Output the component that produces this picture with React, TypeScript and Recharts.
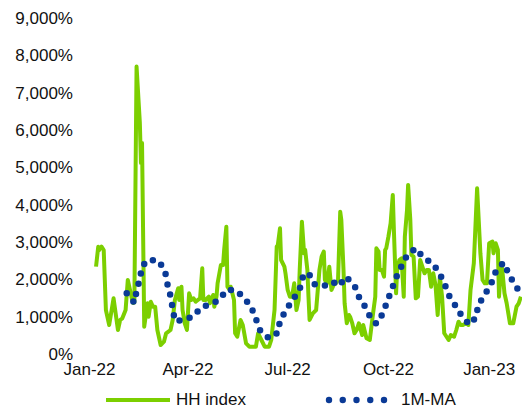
import React from "react";
import { Legend, Line, LineChart, XAxis, YAxis } from "recharts";

// days counted from 1 Jan 2022
const hhDays = [
  6, 8, 9, 11, 13, 15, 18, 22, 26, 28, 30, 33, 35, 37, 39, 40, 41, 43, 46, 47,
  48, 50, 53, 54, 56, 58, 60, 62, 65, 68, 70, 74, 76, 78, 81, 82, 84, 85, 87, 89,
  91, 93, 95, 97, 99, 101, 103, 104, 106, 109, 110, 113, 114, 116, 117, 120, 122, 123, 125, 126,
  128, 129, 132, 133, 135, 138, 140, 143, 146, 149, 152, 154, 157, 160, 164, 166, 169, 171, 172, 174,
  175, 178, 179, 181, 183, 185, 187, 189, 191, 192, 194, 196, 197, 199, 200, 201, 204, 207, 210, 212,
  214, 215, 217, 219, 221, 223, 225, 227, 229, 230, 232, 233, 235, 237, 238, 240, 242, 244, 246, 249,
  250, 253, 256, 259, 261, 262, 264, 265, 267, 269, 270, 271, 273, 275, 277, 278, 280, 281, 283, 285,
  287, 288, 290, 291, 293, 294, 296, 298, 300, 302, 304, 306, 308, 310, 312, 314, 316, 318, 320, 322,
  324, 328, 330, 333, 335, 337, 339, 341, 344, 346, 348, 351, 354, 355, 357, 359, 361, 363, 365, 368,
  369, 371, 373, 374, 376, 377, 379, 381, 382, 384, 387, 390, 392, 394,
];

const hhIndex = [
  2340, 2875, 2786, 2875, 2786, 1179, 777, 1492, 643, 911, 956, 1179, 1982, 1715, 1447, 1366, 1380, 7700, 6188, 5117,
  5653, 731, 1358, 999, 1401, 1267, 1267, 643, 241, 330, 555, 643, 911, 1447, 1760, 1447, 1803, 1179, 822, 643,
  1626, 1447, 1492, 1401, 1447, 1492, 2296, 1447, 1447, 1535, 1358, 1581, 1267, 1535, 1894, 2384, 2384, 2786, 3410, 1803,
  1715, 1803, 1447, 555, 463, 911, 777, 287, 196, 196, 196, 555, 375, 196, 196, 375, 1179, 2875, 2920, 3367,
  2518, 2339, 2162, 1715, 1535, 1535, 1894, 1179, 1447, 2250, 3544, 2698, 2786, 2250, 1535, 911, 1090, 1179, 2250, 2607,
  2741, 1982, 1894, 2339, 1715, 1849, 1894, 1982, 3812, 3590, 2250, 1358, 822, 1045, 999, 822, 555, 643, 822, 509,
  777, 421, 375, 1090, 1535, 2832, 2741, 2250, 2250, 2071, 2786, 2832, 3143, 3501, 4260, 3322, 1626, 2250, 2518, 2564,
  1535, 3143, 3858, 4528, 3590, 2652, 2607, 1492, 1535, 2518, 2339, 2162, 2250, 2250, 1803, 2162, 1849, 1045, 2071, 1535,
  555, 375, 509, 463, 643, 866, 777, 777, 822, 777, 1715, 2430, 4439, 3858, 2698, 1982, 1894, 1894, 2966, 3009,
  2698, 2966, 2786, 1535, 2430, 2250, 1626, 1358, 1179, 822, 822, 1267, 1358, 1535,
];

const maDays = [
  34, 41, 43, 46, 48, 53, 63, 69, 71, 74, 76, 78, 86, 95, 102, 111, 119, 125, 133, 141,
  148, 152, 156, 164, 172, 174, 180, 186, 192, 195, 200, 205, 214, 222, 228, 234, 242, 246, 252, 257,
  262, 268, 272, 276, 280, 285, 290, 298, 305, 313, 319, 324, 328, 334, 340, 347, 353, 355, 361, 367,
  371, 378, 383, 388, 394,
];

const ma1m = [
  1626, 1374, 1688, 2009, 2339, 2518, 2500, 2224, 1894, 1554, 1214, 884, 911, 1010, 1251, 1340, 1455, 1715, 1715, 1519,
  1240, 938, 624, 421, 571, 892, 1206, 1465, 1741, 2071, 2178, 1875, 1822, 1937, 1822, 2071, 1840, 1535, 1251, 956,
  812, 1090, 1420, 1723, 2044, 2358, 2644, 2832, 2572, 2438, 2197, 1902, 1581, 1305, 1018, 785, 983, 1313, 1589, 1894,
  2205, 2446, 2151, 1857, 1642,
];

const tickDays = [0, 90, 181, 273, 365];
const tickLabels = ["Jan-22", "Apr-22", "Jul-22", "Oct-22", "Jan-23"];
const yTicks = [0, 1000, 2000, 3000, 4000, 5000, 6000, 7000, 8000, 9000];

const GREEN = "#7CCF00";
const BLUE = "#0A3A96";
const FONT = '"Liberation Sans", Arial, sans-serif';

const hhData = hhDays.map((day, i) => ({ day, value: hhIndex[i] }));
const maData = maDays.map((day, i) => ({ day, value: ma1m[i] }));

const renderLegend = () => (
  <div style={{ position: "relative", width: 522, height: 24, fontFamily: FONT, fontSize: 17, color: "#111" }}>
    <svg style={{ position: "absolute", left: 106, top: 0 }} width={64} height={24}>
      <line x1={0} y1={12} x2={64} y2={12} stroke={GREEN} strokeWidth={4} />
    </svg>
    <span style={{ position: "absolute", left: 176, top: 2, lineHeight: "20px" }}>HH index</span>
    <svg style={{ position: "absolute", left: 325, top: 0 }} width={64} height={24}>
      {[0, 1, 2, 3, 4].map((i) => (
        <circle key={i} cx={4 + i * 13.75} cy={12} r={3.2} fill={BLUE} />
      ))}
    </svg>
    <span style={{ position: "absolute", left: 401, top: 2, lineHeight: "20px" }}>1M-MA</span>
  </div>
);

export default function App() {
  return (
    <div style={{ position: "absolute", left: 0, top: 0 }}>
      <LineChart width={522} height={412} margin={{ top: 18, right: 0, bottom: 0, left: 0 }}>
        <XAxis
          type="number"
          dataKey="day"
          domain={[-5, 395]}
          ticks={tickDays}
          tickFormatter={(v: number) => tickLabels[tickDays.indexOf(v)] ?? ""}
          allowDataOverflow
          axisLine={false}
          tickLine={false}
          tickSize={0}
          tickMargin={9}
          height={34}
          interval={0}
          tick={{ fill: "#111", fontSize: 17, fontFamily: FONT }}
        />
        <YAxis
          type="number"
          domain={[0, 9000]}
          ticks={yTicks}
          tickFormatter={(v: number) => `${v.toLocaleString("en-US")}%`}
          axisLine={false}
          tickLine={false}
          tickSize={0}
          tickMargin={11}
          width={84}
          interval={0}
          tick={{ fill: "#111", fontSize: 17, fontFamily: FONT }}
        />
        <Legend
          verticalAlign="bottom"
          height={24}
          content={renderLegend}
          wrapperStyle={{ left: 0, bottom: 0, width: 522, height: 24 }}
        />
        <Line
          data={hhData}
          dataKey="value"
          type="linear"
          stroke={GREEN}
          strokeWidth={4}
          strokeLinejoin="round"
          dot={false}
          activeDot={false}
          isAnimationActive={false}
        />
        <Line
          data={maData}
          dataKey="value"
          type="linear"
          stroke={BLUE}
          strokeWidth={6.5}
          strokeLinecap="round"
          strokeDasharray="0 10.5"
          dot={false}
          activeDot={false}
          isAnimationActive={false}
        />
      </LineChart>
    </div>
  );
}
